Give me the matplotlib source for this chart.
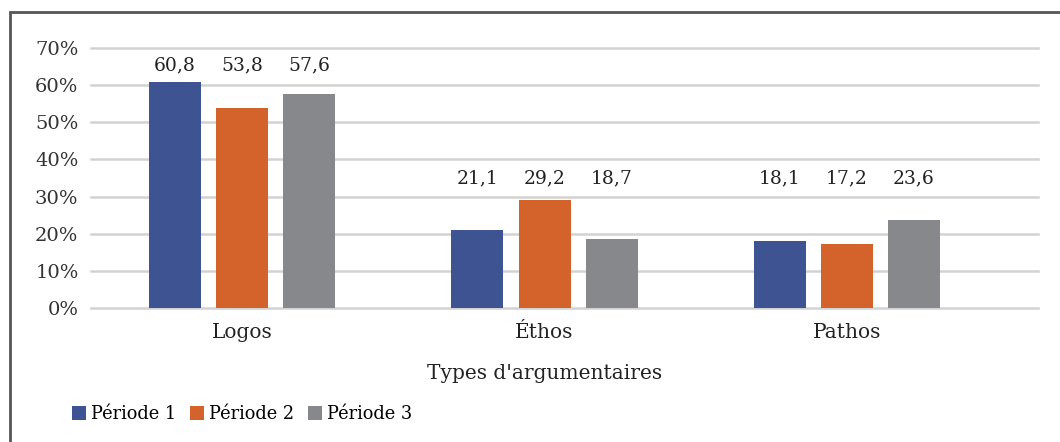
import matplotlib.pyplot as plt
import numpy as np
from matplotlib.patches import Rectangle

categories = ['Logos', 'Éthos', 'Pathos']
periode1 = [60.8, 21.1, 18.1]
periode2 = [53.8, 29.2, 17.2]
periode3 = [57.6, 18.7, 23.6]
series_names = ['Période 1', 'Période 2', 'Période 3']
colors = ['#3e5391', '#d4622b', '#87888c']
y_ticks = [0, 10, 20, 30, 40, 50, 60, 70]
label_heights = [62.8, 32.5, 32.5]   # height of value labels per group

plt.rcParams['font.family'] = ['DejaVu Serif']

fig = plt.figure(figsize=(10.6, 4.42), dpi=100)
W, H = 1060, 442
ax = fig.add_axes([91 / W, (H - 308) / H, (1038 - 91) / W, 260 / H])

x = np.arange(len(categories))
width = 0.172
offset = 0.222
series = [periode1, periode2, periode3]
for i, (vals, name, c) in enumerate(zip(series, series_names, colors)):
    pos = x + (i - 1) * offset
    ax.bar(pos, vals, width, color=c, label=name, zorder=3)
    for px, v, ly in zip(pos, vals, label_heights):
        ax.text(px, ly, f'{v:.1f}'.replace('.', ','), ha='center', va='bottom',
                fontsize=13.5, color='#222222')

ax.set_xlim(-0.5, 2.632)
ax.set_ylim(0, 70)
ax.set_yticks(y_ticks)
ax.set_yticklabels([f'{t}%' for t in y_ticks], fontsize=14, color='#333333')
ax.set_xticks(x)
ax.set_xticklabels(categories, fontsize=14.5, color='#222222')
ax.tick_params(axis='both', length=0)
ax.tick_params(axis='y', pad=9)
ax.tick_params(axis='x', pad=11)
ax.grid(axis='y', color='#d2d2d2', linewidth=1.8, zorder=0)
for gl in ax.get_ygridlines():
    gl.set_clip_on(False)
for s in ax.spines.values():
    s.set_visible(False)

ax.set_xlabel("Types d'argumentaires", fontsize=14.5, color='#222222')
ax.xaxis.set_label_coords((545 - 91) / (1038 - 91), -(364 - 308) / 260)

fig.legend(loc='center left', bbox_to_anchor=(56 / W, 1 - 414 / H), ncol=3,
           frameon=False, fontsize=12.8, handlelength=0.8, handleheight=0.8,
           handletextpad=0.25, columnspacing=0.8)

# outer frame (cropped on right and bottom)
fig.patches.append(Rectangle((10 / W, -0.1), 1.2, (H - 12) / H + 0.1,
                             transform=fig.transFigure, fill=False,
                             edgecolor='#555555', linewidth=2))

fig.savefig('out.png', dpi=100, facecolor='white')
